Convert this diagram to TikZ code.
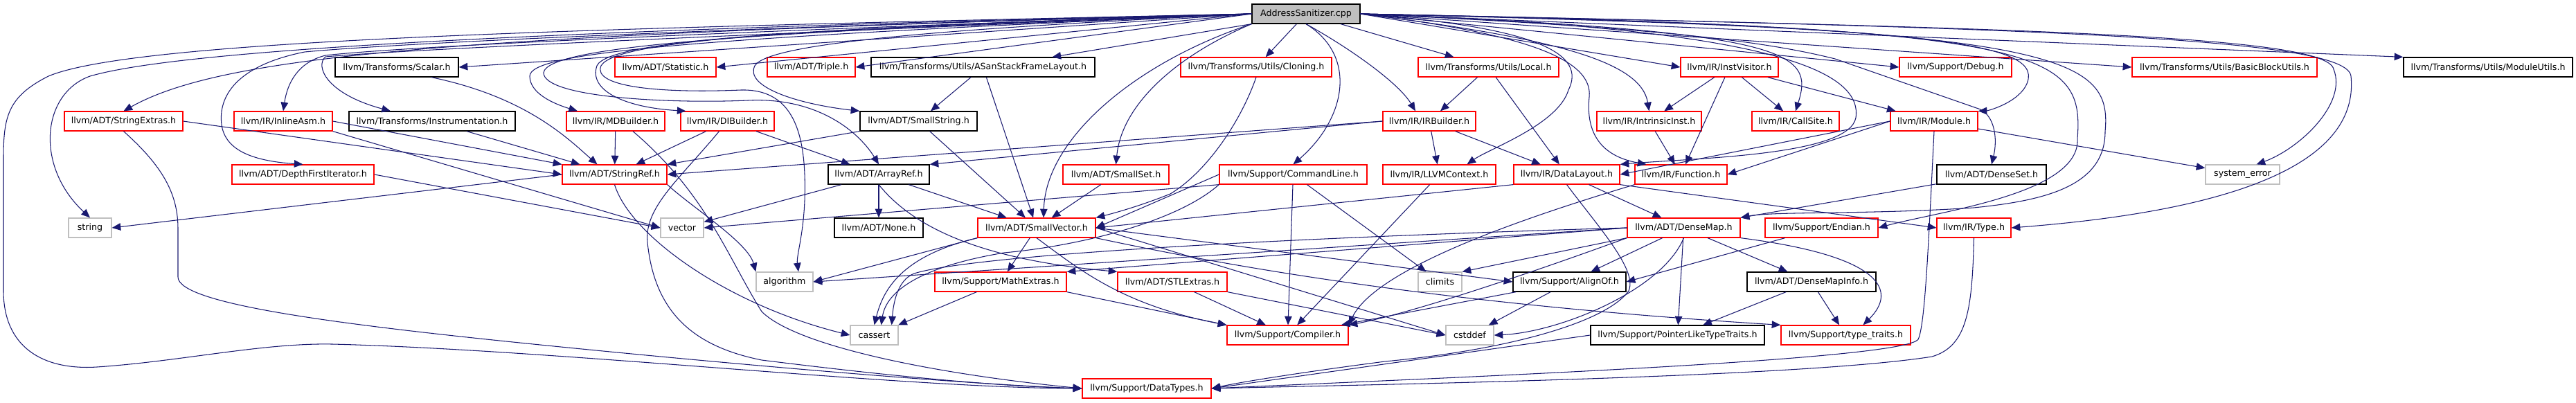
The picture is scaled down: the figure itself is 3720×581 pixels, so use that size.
\documentclass[tikz,border=0pt]{standalone}
\usepackage{fontspec}
\setmainfont{DejaVu Sans}
\usepackage{tikz}
\usetikzlibrary{arrows.meta}
\usetikzlibrary{calc}
\definecolor{edgeblue}{HTML}{191970}
\definecolor{truncred}{HTML}{FF0000}
\definecolor{sysgray}{HTML}{BFBFBF}

\begin{document}
\begin{tikzpicture}[x=0.01cm,y=-0.01cm,
  file/.style={draw=black,line width=0.35pt,minimum height=0.28cm,inner sep=0pt,
    font=\fontsize{3.6}{4.3}\selectfont},
  redfile/.style={file,draw=truncred},
  sysfile/.style={file,draw=sysgray},
  dep/.style={draw=edgeblue,line width=0.3pt,-{Triangle[length=3.6pt,width=3pt]}}]
\useasboundingbox (0,0) rectangle (3720,581);
\node[file,fill=sysgray,minimum width=1.56cm] (asan) at (1886,20) {AddressSanitizer.cpp};

\node[file,minimum width=1.78cm] (scalar) at (573,97) {llvm/Transforms/Scalar.h};
\node[redfile,minimum width=1.46cm] (statistic) at (961,97) {llvm/ADT/Statistic.h};
\node[redfile,minimum width=1.27cm] (triple) at (1171.5,97) {llvm/ADT/Triple.h};
\node[file,minimum width=3.23cm] (asansfl) at (1419.5,97) {llvm/Transforms/Utils/ASanStackFrameLayout.h};
\node[redfile,minimum width=2.18cm] (cloning) at (1814,97) {llvm/Transforms/Utils/Cloning.h};
\node[redfile,minimum width=2.03cm] (local) at (2149.5,97) {llvm/Transforms/Utils/Local.h};
\node[redfile,minimum width=1.41cm] (instvisitor) at (2497.5,97) {llvm/IR/InstVisitor.h};
\node[redfile,minimum width=1.62cm] (debug) at (2824,97) {llvm/Support/Debug.h};
\node[redfile,minimum width=2.67cm] (bbutils) at (3212.5,97) {llvm/Transforms/Utils/BasicBlockUtils.h};
\node[file,minimum width=2.44cm] (modutils) at (3593,97) {llvm/Transforms/Utils/ModuleUtils.h};

\node[redfile,minimum width=1.71cm] (strextras) at (178.5,175) {llvm/ADT/StringExtras.h};
\node[redfile,minimum width=1.42cm] (inlineasm) at (409,175) {llvm/IR/InlineAsm.h};
\node[file,minimum width=2.40cm] (instrum) at (624,175) {llvm/Transforms/Instrumentation.h};
\node[redfile,minimum width=1.42cm] (mdbuilder) at (889,175) {llvm/IR/MDBuilder.h};
\node[redfile,minimum width=1.35cm] (dibuilder) at (1050.5,175) {llvm/IR/DIBuilder.h};
\node[file,minimum width=1.69cm] (smallstr) at (1326.5,175) {llvm/ADT/SmallString.h};
\node[redfile,minimum width=1.34cm] (irbuilder) at (2064,175) {llvm/IR/IRBuilder.h};
\node[redfile,minimum width=1.51cm] (intrinsic) at (2381.5,175) {llvm/IR/IntrinsicInst.h};
\node[redfile,minimum width=1.26cm] (callsite) at (2593,175) {llvm/IR/CallSite.h};
\node[redfile,minimum width=1.26cm] (module) at (2793,175) {llvm/IR/Module.h};

\node[redfile,minimum width=2.05cm] (dfiter) at (437.5,252) {llvm/ADT/DepthFirstIterator.h};
\node[redfile,minimum width=1.51cm] (stringref) at (887.5,252) {llvm/ADT/StringRef.h};
\node[file,minimum width=1.46cm] (arrayref) at (1269,252) {llvm/ADT/ArrayRef.h};
\node[redfile,minimum width=1.53cm] (smallset) at (1611.5,252) {llvm/ADT/SmallSet.h};
\node[redfile,minimum width=2.13cm] (cmdline) at (1867.5,252) {llvm/Support/CommandLine.h};
\node[redfile,minimum width=1.63cm] (llvmctx) at (2078.5,252) {llvm/IR/LLVMContext.h};
\node[redfile,minimum width=1.53cm] (datalayout) at (2262.5,252) {llvm/IR/DataLayout.h};
\node[redfile,minimum width=1.33cm] (function) at (2427.5,252) {llvm/IR/Function.h};
\node[file,minimum width=1.58cm] (denseset) at (2876,252) {llvm/ADT/DenseSet.h};
\node[sysfile,minimum width=1.07cm] (syserr) at (3238.5,252) {system\_error};

\node[sysfile,minimum width=0.62cm] (string) at (130,329) {string};
\node[sysfile,minimum width=0.62cm] (vector) at (985,329) {vector};
\node[file,minimum width=1.28cm] (none) at (1269,329) {llvm/ADT/None.h};
\node[redfile,minimum width=1.70cm] (smallvec) at (1497,329) {llvm/ADT/SmallVector.h};
\node[redfile,minimum width=1.63cm] (densemap) at (2431.5,329) {llvm/ADT/DenseMap.h};
\node[redfile,minimum width=1.63cm] (endian) at (2630.5,329) {llvm/Support/Endian.h};
\node[redfile,minimum width=1.07cm] (type) at (2850.5,329) {llvm/IR/Type.h};

\node[sysfile,minimum width=0.82cm] (algorithm) at (1133,407) {algorithm};
\node[redfile,minimum width=1.90cm] (mathextras) at (1445,407) {llvm/Support/MathExtras.h};
\node[redfile,minimum width=1.58cm] (stlextras) at (1693,407) {llvm/ADT/STLExtras.h};
\node[sysfile,minimum width=0.63cm] (climits) at (2079.5,407) {climits};
\node[file,minimum width=1.63cm] (alignof) at (2266.5,407) {llvm/Support/AlignOf.h};
\node[file,minimum width=1.86cm] (dmapinfo) at (2616,407) {llvm/ADT/DenseMapInfo.h};

\node[sysfile,minimum width=0.69cm] (cassert) at (1262.5,484) {cassert};
\node[redfile,minimum width=1.75cm] (compiler) at (1859.5,484) {llvm/Support/Compiler.h};
\node[sysfile,minimum width=0.69cm] (cstddef) at (2122.5,484) {cstddef};
\node[file,minimum width=2.51cm] (ptrtraits) at (2422.5,484) {llvm/Support/PointerLikeTypeTraits.h};
\node[redfile,minimum width=1.87cm] (typetraits) at (2665.5,484) {llvm/Support/type\_traits.h};

\node[redfile,minimum width=1.86cm] (datatypes) at (1656,561) {llvm/Support/DataTypes.h};

% edges leaving the source file
\draw[dep] (asan.west) .. controls (900,40) and (200,55) .. (70,110) .. controls (10,140) and (5,170) .. (5,230) -- (5,420) .. controls (5,500) and (60,535) .. (140,530) .. controls (260,522) and (380,495) .. (480,497) .. controls (800,505) and (1300,560) .. (datatypes.west);
\draw[dep] (asan.west) .. controls (700,45) and (250,75) .. (130,110) .. controls (60,135) and (50,240) .. (string.north);
\draw[dep] (asan.west) .. controls (700,50) and (330,75) .. (strextras.north);
\draw[dep] (asan.west) .. controls (1200,35) and (600,60) .. (440,75) .. controls (340,95) and (315,140) .. (320,180) .. controls (325,215) and (360,232) .. (dfiter.north);
\draw[dep] (asan.west) .. controls (1200,40) and (600,65) .. (470,80) .. controls (430,90) and (415,120) .. (inlineasm.north);
\draw[dep] (asan.west) .. controls (1200,45) and (600,70) .. (470,82) .. controls (455,95) and (470,135) .. ($(instrum.north)+(-60,0)$);
\draw[dep] (asan.west) -- (scalar.east);
\draw[dep] (asan.west) .. controls (1000,55) and (765,75) .. (765,110) .. controls (765,135) and (800,150) .. ($(mdbuilder.north)+(-55,0)$);
\draw[dep] (asan.west) .. controls (1200,40) and (880,55) .. (862,95) .. controls (850,130) and (900,155) .. ($(dibuilder.north)+(-60,0)$);
\draw[dep] (asan.west) .. controls (1100,45) and (790,65) .. (785,105) .. controls (785,140) and (960,150) .. (1080,145) .. controls (1180,140) and (1240,190) .. (arrayref.north);
\draw[dep] (asan.west) .. controls (1200,40) and (890,55) .. (868,95) .. controls (855,125) and (950,135) .. (1070,130) .. controls (1150,128) and (1165,200) .. (1162,290) .. controls (1160,340) and (1150,370) .. ($(algorithm.north)+(20,0)$);
\draw[dep] (asan.west) -- (statistic.east);
\draw[dep] (asan.west) -- (triple.east);
\draw[dep] (asan.west) .. controls (1400,40) and (1110,60) .. (1090,95) .. controls (1075,125) and (1150,150) .. (smallstr.north west);
\draw[dep] (asan.south west) -- ($(asansfl.north)+(100,0)$);
\draw[dep] (asan.south west) .. controls (1640,90) and (1510,200) .. ($(smallvec.north)+(10,0)$);
\draw[dep] (asan.south west) .. controls (1700,80) and (1620,150) .. (smallset.north);
\draw[dep] (asan) -- (cloning);
\draw[dep] (asan.south) .. controls (1960,80) and (1945,170) .. (cmdline.north);
\draw[dep] (asan.south) .. controls (1950,70) and (2020,120) .. ($(irbuilder.north)+(-20,0)$);
\draw[dep] (asan) -- (local);
\draw[dep] (asan.east) .. controls (2230,40) and (2290,80) .. (2265,130) .. controls (2250,180) and (2150,215) .. ($(llvmctx.north)+(40,0)$);
\draw[dep] (asan.east) .. controls (2220,50) and (2300,90) .. (2295,140) .. controls (2290,190) and (2310,225) .. ($(function.north)+(-50,0)$);
\draw[dep] (asan.east) .. controls (2250,55) and (2370,90) .. (intrinsic.north);
\draw[dep] (asan.east) -- (instvisitor.west);
\draw[dep] (asan.east) .. controls (2590,45) and (2620,75) .. (callsite.north);
\draw[dep] (asan.east) .. controls (2550,40) and (2690,100) .. (2680,170) .. controls (2670,225) and (2450,228) .. (datalayout.north east);
\draw[dep] (asan.east) .. controls (2800,40) and (2960,60) .. (2925,125) .. controls (2910,150) and (2870,160) .. (module.north east);
\draw[dep] (asan.east) .. controls (2400,40) and (2550,60) .. (2650,85) -- (2860,158) .. controls (2880,168) and (2885,200) .. (denseset.north);
\draw[dep] (asan.east) -- (debug.west);
\draw[dep] (asan.east) .. controls (2950,40) and (3010,70) .. (3000,200) .. controls (3005,280) and (2800,305) .. (endian.east);
\draw[dep] (asan.east) .. controls (2980,40) and (3050,80) .. (3040,190) .. controls (3040,270) and (2950,290) .. (2850,300) .. controls (2700,310) and (2560,305) .. (densemap.north east);
\draw[dep] (asan.east) -- (bbutils.west);
\draw[dep] (asan.east) .. controls (2900,40) and (3360,50) .. (3370,100) .. controls (3390,150) and (3320,215) .. ($(syserr.north)+(20,0)$);
\draw[dep] (asan.east) .. controls (2950,40) and (3390,55) .. (3395,110) .. controls (3410,260) and (3150,310) .. (type.east);
\draw[dep] (asan.east) -- (modutils.north west);

% edges between the headers
\draw[dep] ($(scalar.south)+(50,0)$) .. controls (760,140) and (820,200) .. ($(stringref.north)+(-25,0)$);
\draw[dep] (instrum) -- (stringref);
\draw[dep] (strextras.east) -- (stringref.west);
\draw[dep] (strextras.south) .. controls (235,240) and (257,280) .. (257,330) -- (257,400) .. controls (257,440) and (500,470) .. (800,500) .. controls (1100,530) and (1400,555) .. (datatypes.west);
\draw[dep] (inlineasm.east) -- (stringref.north west);
\draw[dep] (inlineasm.south east) -- (vector.west);
\draw[dep] (dfiter.east) -- (vector.west);
\draw[dep] (mdbuilder) -- (stringref);
\draw[dep] ($(mdbuilder.south)+(25,0)$) .. controls (1020,280) and (1050,370) .. (1100,450) .. controls (1150,500) and (1350,540) .. (datatypes.west);
\draw[dep] (dibuilder) -- (stringref);
\draw[dep] (dibuilder) -- (arrayref);
\draw[dep] ($(dibuilder.south)+(-12,0)$) .. controls (980,260) and (930,300) .. (935,350) .. controls (945,450) and (1000,500) .. (1100,520) .. controls (1300,545) and (1450,558) .. (datatypes.west);
\draw[dep] (smallstr.south west) -- (stringref.north east);
\draw[dep] (smallstr) -- (smallvec);
\draw[dep] (asansfl) -- (smallstr);
\draw[dep] (asansfl) -- (smallvec);
\draw[dep] (stringref.west) -- (string.east);
\draw[dep] (stringref.south east) .. controls (1000,300) and (1080,350) .. (algorithm.north west);
\draw[dep] (stringref.south) .. controls (910,340) and (1050,440) .. (cassert.west);
\draw[dep] (arrayref) -- (vector);
\draw[dep] (arrayref) -- (none);
\draw[dep] (arrayref) -- (smallvec);
\draw[dep] (arrayref.south) .. controls (1320,330) and (1420,375) .. (stlextras.north west);
\draw[dep] (cloning.south) .. controls (1790,180) and (1740,250) .. (1690,280) .. controls (1640,300) and (1600,310) .. (smallvec.north east);
\draw[dep] (smallset) -- (smallvec);
\draw[dep] (cmdline.west) -- (smallvec.east);
\draw[dep] (cmdline.south west) -- (vector.east);
\draw[dep] (cmdline) -- (compiler);
\draw[dep] (cmdline) -- (climits);
\draw[dep] (cmdline.south west) .. controls (1700,320) and (1560,355) .. (1450,365) .. controls (1330,385) and (1280,420) .. ($(cassert.north)+(10,0)$);
\draw[dep] (irbuilder.west) -- (arrayref.north east);
\draw[dep] (irbuilder.west) -- (stringref.east);
\draw[dep] (irbuilder) -- (llvmctx);
\draw[dep] (irbuilder) -- (datalayout);
\draw[dep] (local) -- (irbuilder);
\draw[dep] (local) -- (datalayout);
\draw[dep] (instvisitor) -- (intrinsic);
\draw[dep] (instvisitor) -- (function);
\draw[dep] (instvisitor) -- (callsite);
\draw[dep] (instvisitor) -- (module);
\draw[dep] (intrinsic) -- (function);
\draw[dep] (module.west) -- (function.east);
\draw[dep] (module.west) -- (datalayout.east);
\draw[dep] (module) -- (syserr);
\draw[dep] (module.south) .. controls (2785,350) and (2780,470) .. (2770,490) .. controls (2750,520) and (2100,545) .. (datatypes.east);
\draw[dep] (llvmctx) -- (compiler);
\draw[dep] (datalayout.south west) -- (smallvec.east);
\draw[dep] (datalayout.south east) -- (type.west);
\draw[dep] (datalayout) -- (densemap);
\draw[dep] (datalayout.south) .. controls (2310,330) and (2365,390) .. (2352,420) .. controls (2320,465) and (2180,505) .. (2000,522) .. controls (1900,535) and (1800,550) .. (datatypes.east);
\draw[dep] (function.south west) .. controls (2250,300) and (1990,380) .. (compiler.north east);
\draw[dep] (denseset) -- (densemap.north east);
\draw[dep] (densemap.west) -- (algorithm.east);
\draw[dep] (densemap.west) -- (mathextras.north east);
\draw[dep] (densemap.west) .. controls (1800,345) and (1400,370) .. (1320,395) .. controls (1295,405) and (1290,440) .. ($(cassert.north east)+(-10,0)$);
\draw[dep] (densemap.south west) -- (climits.north east);
\draw[dep] (densemap) -- (alignof);
\draw[dep] (densemap.south west) .. controls (2250,380) and (2050,450) .. (compiler.north east);
\draw[dep] (densemap.south) .. controls (2400,420) and (2250,480) .. (cstddef.east);
\draw[dep] (densemap) -- (ptrtraits);
\draw[dep] (densemap) -- (dmapinfo);
\draw[dep] (densemap.south east) .. controls (2720,370) and (2740,420) .. ($(typetraits.north)+(25,0)$);
\draw[dep] (dmapinfo) -- (ptrtraits);
\draw[dep] (dmapinfo) -- (typetraits);
\draw[dep] (ptrtraits.west) -- (datatypes.east);
\draw[dep] (alignof) -- (compiler);
\draw[dep] (alignof) -- (cstddef);
\draw[dep] (mathextras) -- (cassert);
\draw[dep] (mathextras.south east) -- (compiler.north west);
\draw[dep] (stlextras) -- (compiler);
\draw[dep] (stlextras.south east) -- (cstddef.west);
\draw[dep] (smallvec) -- (mathextras);
\draw[dep] (smallvec.south) .. controls (1560,390) and (1620,440) .. (compiler.north west);
\draw[dep] (smallvec.east) -- (alignof.west);
\draw[dep] (smallvec.east) -- (cstddef.west);
\draw[dep] (smallvec.south east) .. controls (1800,390) and (2100,440) .. (typetraits.north west);
\draw[dep] (smallvec.south west) -- (algorithm.east);
\draw[dep] (smallvec.south west) .. controls (1300,370) and (1275,420) .. (cassert.north);
\draw[dep] (endian) -- (alignof.east);
\draw[dep] (type.south) .. controls (2848,450) and (2840,500) .. (2790,515) .. controls (2600,545) and (2000,555) .. (datatypes.east);
\end{tikzpicture}
\end{document}
